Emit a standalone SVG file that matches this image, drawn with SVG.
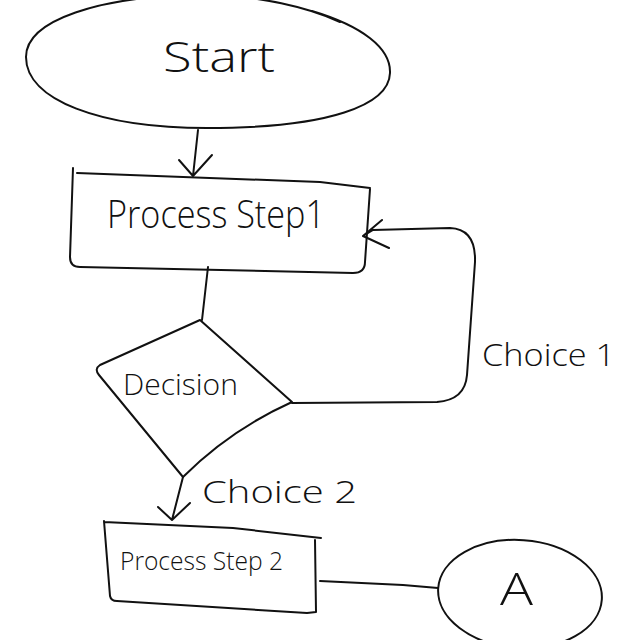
<svg xmlns="http://www.w3.org/2000/svg" width="640" height="640" viewBox="0 0 640 640">
<style>
.s{fill:none;stroke:#111;stroke-width:2;stroke-linecap:round;stroke-linejoin:round}
.t{font-family:"Open Sans","Liberation Sans","DejaVu Sans",sans-serif;font-weight:300;fill:#111}
</style>
<rect width="640" height="640" fill="#fff"/>
<g id="start">
<path class="s" d="M312,11 C362,26 391,48 390,73 C389,105 330,128 207,128 C100,128 26,100 26,57 C26,20 100,-4 200,-5 C260,-5 310,8 340,22"/>
<text class="t" x="163" y="72" font-size="42" textLength="112" lengthAdjust="spacingAndGlyphs">Start</text>
</g>
<g id="process1">
<path class="s" d="M73,168 L70,257 Q70,267 80,267 L353,273 Q365,273 365,262 L370,189 M77,173 L320,182 L370,188"/>
<text class="t" x="107" y="228" font-size="38" textLength="218" lengthAdjust="spacingAndGlyphs">Process Step1</text>
</g>
<g id="decision">
<path class="s" d="M200,320 L100,365 Q94,369 99,375 L183,477 Q230,430 292,402 L200,320"/>
<text class="t" x="123" y="395" font-size="29" textLength="115" lengthAdjust="spacingAndGlyphs">Decision</text>
</g>
<g id="process2">
<path class="s" d="M104,521 L110,596 Q111,601 117,601 L307,613 L316,612 L315,540 M104,522 L233,528 L321,538"/>
<text class="t" x="120" y="570" font-size="26" textLength="163" lengthAdjust="spacingAndGlyphs">Process Step 2</text>
</g>
<g id="connectorA">
<ellipse class="s" cx="520" cy="594" rx="82" ry="54" transform="rotate(4 520 594)"/>
<text class="t" x="500" y="605" font-size="44" textLength="33" lengthAdjust="spacingAndGlyphs">A</text>
</g>
<g id="connectors">
<path class="s" d="M198,130 L193,176 M179,160 L193,176 L212,155"/>
<path class="s" d="M208,267 L202,320"/>
<path class="s" d="M292,403 L437,402 Q465,400 467,375 L475,262 Q476,229 450,228 L373,230 L363,236 M382,220 L363,236 L389,248"/>
<text class="t" x="482" y="366" font-size="31" textLength="133" lengthAdjust="spacingAndGlyphs">Choice 1</text>
<path class="s" d="M183,477 L172,520 M158,507 L172,520 L190,503"/>
<text class="t" x="202" y="503" font-size="31" textLength="155" lengthAdjust="spacingAndGlyphs">Choice 2</text>
<path class="s" d="M320,581 L403,585 L438,588"/>
</g>
</svg>
